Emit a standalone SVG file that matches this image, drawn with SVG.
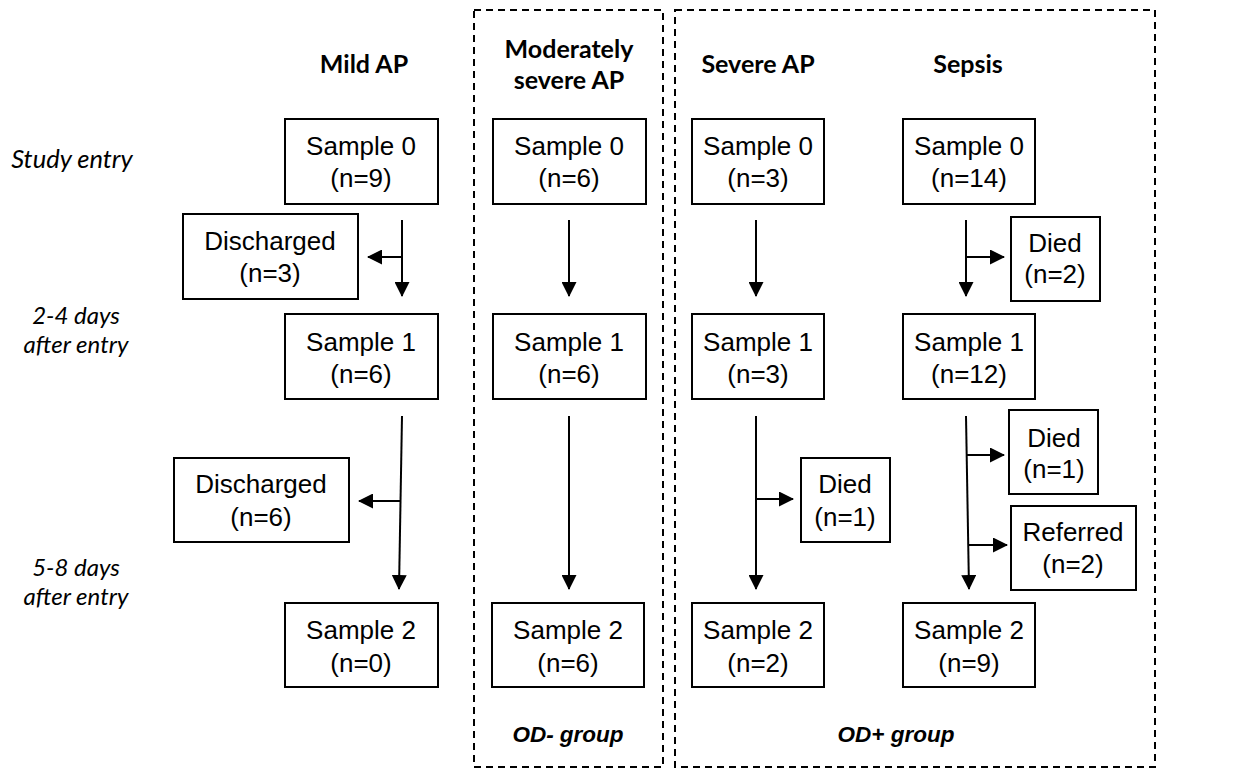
<svg xmlns="http://www.w3.org/2000/svg" width="1242" height="769" viewBox="0 0 1242 769">
<defs>
<marker id="ah" markerUnits="userSpaceOnUse" markerWidth="15" markerHeight="15" refX="14" refY="7.5" orient="auto" viewBox="0 0 15 15">
<path d="M0,0 L15,7.5 L0,15 Z" fill="#000"/>
</marker>
</defs>
<style>
.bx{fill:#fff;stroke:#000;stroke-width:2}
.t{font-family:"Liberation Sans",Arial,sans-serif;font-size:26px;text-anchor:middle;fill:#000}
.h{font-family:Lato,"Open Sans",sans-serif;font-weight:bold;font-size:25px;text-anchor:middle;fill:#000}
.l{font-family:Lato,"Open Sans",sans-serif;font-style:italic;font-size:25.5px;text-anchor:middle;fill:#000}
.l2{font-family:Lato,"Open Sans",sans-serif;font-style:italic;font-size:24px;text-anchor:middle;fill:#000}
.g{font-family:"Liberation Sans",Arial,sans-serif;font-weight:bold;font-style:italic;font-size:22.5px;text-anchor:middle;fill:#000}
.dash{fill:none;stroke:#000;stroke-width:2;stroke-dasharray:7,5}
.c{fill:none;stroke:#000;stroke-width:2;marker-end:url(#ah)}
</style>
<rect width="1242" height="769" fill="#fff"/>
<g id="groups">
<rect class="dash" x="474" y="10" width="189" height="757"/>
<rect class="dash" x="675" y="10" width="480" height="757"/>
<text class="g" x="568" y="742">OD- group</text>
<text class="g" x="896" y="742">OD+ group</text>
</g>
<g id="headers">
<text class="h" x="364" y="73">Mild AP</text>
<text class="h" x="569" y="58">Moderately</text>
<text class="h" x="569" y="89">severe AP</text>
<text class="h" x="758" y="73">Severe AP</text>
<text class="h" x="968" y="73">Sepsis</text>
</g>
<g id="timepoints">
<text class="l" x="72" y="168">Study entry</text>
<text class="l2" x="76" y="324">2-4 days</text>
<text class="l2" x="76" y="353">after entry</text>
<text class="l2" x="76" y="576">5-8 days</text>
<text class="l2" x="76" y="605">after entry</text>
</g>
<g id="connectors">
<line class="c" x1="402" y1="220" x2="402" y2="296"/>
<line class="c" x1="402" y1="257" x2="368" y2="257"/>
<line class="c" x1="569" y1="220" x2="569" y2="296"/>
<line class="c" x1="756" y1="220" x2="756" y2="296"/>
<line class="c" x1="966" y1="220" x2="966" y2="296"/>
<line class="c" x1="966" y1="257" x2="1004" y2="257"/>
<line class="c" x1="402" y1="416" x2="399" y2="589"/>
<line class="c" x1="401" y1="501" x2="359" y2="501"/>
<line class="c" x1="569" y1="416" x2="569" y2="589"/>
<line class="c" x1="756" y1="416" x2="756" y2="589"/>
<line class="c" x1="756" y1="499" x2="793" y2="499"/>
<line class="c" x1="966" y1="416" x2="969" y2="589"/>
<line class="c" x1="967" y1="455" x2="1004" y2="455"/>
<line class="c" x1="968" y1="545" x2="1007" y2="545"/>
</g>
<g id="mild0"><rect class="bx" x="285" y="119" width="153" height="85"/><text class="t" x="361" y="155">Sample 0</text><text class="t" x="361" y="187">(n=9)</text></g>
<g id="mod0"><rect class="bx" x="493" y="119" width="153" height="85"/><text class="t" x="569" y="155">Sample 0</text><text class="t" x="569" y="187">(n=6)</text></g>
<g id="sev0"><rect class="bx" x="692" y="119" width="132" height="85"/><text class="t" x="758" y="155">Sample 0</text><text class="t" x="758" y="187">(n=3)</text></g>
<g id="sep0"><rect class="bx" x="903" y="119" width="132" height="85"/><text class="t" x="969" y="155">Sample 0</text><text class="t" x="969" y="187">(n=14)</text></g>
<g id="dis1"><rect class="bx" x="183" y="214" width="175" height="85"/><text class="t" x="270" y="250">Discharged</text><text class="t" x="270" y="282">(n=3)</text></g>
<g id="died1"><rect class="bx" x="1011" y="217" width="89" height="84"/><text class="t" x="1055" y="252">Died</text><text class="t" x="1055" y="283">(n=2)</text></g>
<g id="mild1"><rect class="bx" x="285" y="314" width="153" height="85"/><text class="t" x="361" y="351">Sample 1</text><text class="t" x="361" y="383">(n=6)</text></g>
<g id="mod1"><rect class="bx" x="493" y="314" width="153" height="85"/><text class="t" x="569" y="351">Sample 1</text><text class="t" x="569" y="383">(n=6)</text></g>
<g id="sev1"><rect class="bx" x="692" y="314" width="132" height="85"/><text class="t" x="758" y="351">Sample 1</text><text class="t" x="758" y="383">(n=3)</text></g>
<g id="sep1"><rect class="bx" x="903" y="314" width="132" height="85"/><text class="t" x="969" y="351">Sample 1</text><text class="t" x="969" y="383">(n=12)</text></g>
<g id="dis2"><rect class="bx" x="174" y="458" width="175" height="84"/><text class="t" x="261" y="493">Discharged</text><text class="t" x="261" y="526">(n=6)</text></g>
<g id="died2"><rect class="bx" x="801" y="458" width="89" height="84"/><text class="t" x="845" y="493">Died</text><text class="t" x="845" y="526">(n=1)</text></g>
<g id="died3"><rect class="bx" x="1009" y="410" width="89" height="84"/><text class="t" x="1054" y="447">Died</text><text class="t" x="1054" y="478">(n=1)</text></g>
<g id="ref"><rect class="bx" x="1011" y="506" width="125" height="84"/><text class="t" x="1073" y="541">Referred</text><text class="t" x="1073" y="573">(n=2)</text></g>
<g id="mild2"><rect class="bx" x="285" y="603" width="153" height="84"/><text class="t" x="361" y="639">Sample 2</text><text class="t" x="361" y="672">(n=0)</text></g>
<g id="mod2"><rect class="bx" x="492" y="603" width="152" height="84"/><text class="t" x="568" y="639">Sample 2</text><text class="t" x="568" y="672">(n=6)</text></g>
<g id="sev2"><rect class="bx" x="692" y="603" width="132" height="84"/><text class="t" x="758" y="639">Sample 2</text><text class="t" x="758" y="672">(n=2)</text></g>
<g id="sep2"><rect class="bx" x="903" y="603" width="132" height="84"/><text class="t" x="969" y="639">Sample 2</text><text class="t" x="969" y="672">(n=9)</text></g>
</svg>
